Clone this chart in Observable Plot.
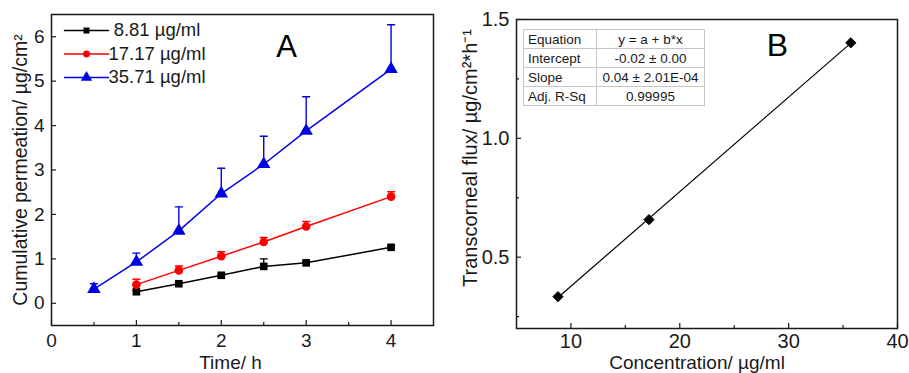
<!DOCTYPE html>
<html><head><meta charset="utf-8">
<script src="https://cdn.jsdelivr.net/npm/d3@7"></script>
<script src="https://cdn.jsdelivr.net/npm/@observablehq/plot@0.6"></script>
<style>
body{margin:0;background:#fff;}
#wrap{position:relative;width:909px;height:373px;overflow:hidden;font-family:"Liberation Sans",Arial,sans-serif;background:#fff;}
#wrap svg{position:absolute;top:0;}
#fit{position:absolute;left:523px;top:29px;border-collapse:collapse;font-size:13.5px;color:#1a1a1a;background:#fff;}
#fit td{border:1px solid #c6c6c6;height:18px;padding:0 4px;line-height:17px;white-space:nowrap;}
#fit td:first-child{width:64px;text-align:left;}
#fit td:last-child{width:99px;text-align:center;}
</style></head><body><div id="wrap"></div>
<script>
// ---------- Panel A data ----------
const timeA = [0.5, 1, 1.5, 2, 2.5, 3, 4];
const seriesA = ["\u00a08.81 µg/ml", "17.17 µg/ml", "35.71 µg/ml"];
const colorsA = ["#000000", "#ff0000", "#0000e6"];
const symbolsA = ["square", "circle", "triangle"];
const perm881 = [null, 0.26, 0.44, 0.63, 0.83, 0.91, 1.26];
const err881 = [null, 0.03, 0.03, 0.03, 0.17, 0.03, 0.03];
const perm1717 = [null, 0.42, 0.74, 1.06, 1.38, 1.73, 2.40];
const err1717 = [null, 0.12, 0.10, 0.10, 0.10, 0.11, 0.11];
const perm3571 = [0.32, 0.93, 1.63, 2.47, 3.13, 3.88, 5.27];
const err3571 = [0.12, 0.20, 0.54, 0.57, 0.63, 0.77, 1.00];
const xTicksA = [0, 1, 2, 3, 4];
const xMinorA = [0.5, 1.5, 2.5, 3.5];
const yTicksA = [0, 1, 2, 3, 4, 5, 6];

// ---------- Panel B data ----------
const concB = [8.81, 17.17, 35.71];
const fluxB = [0.334, 0.658, 1.402];
const xTicksB = [10, 20, 30, 40];
const xMinorB = [15, 25, 35];
const yTicksB = [0.5, 1.0, 1.5];
const yMinorB = [0.25, 0.75, 1.25];
const fitLabels = ["Equation", "Intercept", "Slope", "Adj. R-Sq"];
const fitValues = ["y = a + b*x", "-0.02 ± 0.00", "0.04 ± 2.01E-04", "0.99995"];

const wrap = document.getElementById("wrap");
const font = '"Liberation Sans", Arial, sans-serif';
const ink = "#1a1a1a";

// ---------- Panel A ----------
const permA = [perm881, perm1717, perm3571];
const errA = [err881, err1717, err3571];
const rowsA = [];
seriesA.forEach((s, i) => timeA.forEach((t, j) => {
  if (permA[i][j] != null) rowsA.push({s: i, t, v: permA[i][j], e: errA[i][j]});
}));

const A = {W: 450, H: 373, mL: 51, mR: 17, mT: 14, mB: 48};
const aInW = A.W - A.mL - A.mR, aInH = A.H - A.mT - A.mB;

const marksA = [
  Plot.frame({stroke: ink, strokeWidth: 1.5}),
  Plot.tickX(xTicksA, {x: d => d, insetTop: aInH - 5, stroke: ink, strokeWidth: 1.2}),
  Plot.tickX(xMinorA, {x: d => d, insetTop: aInH - 3, stroke: ink, strokeWidth: 1.2}),
  Plot.tickY(yTicksA, {y: d => d, insetRight: aInW - 5, stroke: ink, strokeWidth: 1.2}),
  Plot.axisX({ticks: xTicksA, tickSize: 0, tickPadding: 8, fontSize: 19, label: null, fill: ink, tickFormat: d3.format("d")}),
  Plot.axisY({ticks: yTicksA, tickSize: 0, tickPadding: 7, fontSize: 19, label: null, fill: ink, tickFormat: d3.format("d")}),
  Plot.text(["Time/ h"], {frameAnchor: "bottom", dx: -12, dy: 37, fontSize: 19, textAnchor: "middle", lineAnchor: "middle", fill: ink}),
  Plot.text(["Cumulative permeation/ µg/cm²"], {frameAnchor: "left", dx: -31, dy: 0, rotate: -90, fontSize: 19.5, textAnchor: "middle", lineAnchor: "middle", fill: ink}),
  Plot.text(["A"], {frameAnchor: "top-left", dx: 235, dy: 33, fontSize: 31, textAnchor: "middle", lineAnchor: "middle", fill: "#000"})
];
seriesA.forEach((name, i) => {
  const d = rowsA.filter(r => r.s === i);
  const c = colorsA[i];
  marksA.push(
    Plot.line(d, {x: "t", y: "v", stroke: c, strokeWidth: 1.5}),
    Plot.ruleX(d, {x: "t", y1: "v", y2: r => r.v + r.e, stroke: c, strokeWidth: 1.4}),
    Plot.vector(d, {x: "t", y: r => r.v + r.e, length: 7, rotate: 90, anchor: "middle", r: 0, stroke: c, strokeWidth: 1.4}),
    Plot.dot(d, {x: "t", y: "v", symbol: symbolsA[i], r: i === 2 ? 5 : 4.3, fill: c, stroke: "none"}),
    // legend
    Plot.vector([0], {frameAnchor: "top-left", dx: 35, dy: 16 + i * 23.5, length: 44, rotate: 90, anchor: "middle", r: 0, stroke: c, strokeWidth: 1.5}),
    Plot.dot([0], {frameAnchor: "top-left", dx: 35, dy: 16 + i * 23.5, symbol: symbolsA[i], r: i === 2 ? 4.2 : 3.4, fill: c, stroke: "none"}),
    Plot.text([name], {frameAnchor: "top-left", dx: 57, dy: 16 + i * 23.5, fontSize: 18.5, textAnchor: "start", lineAnchor: "middle", fill: ink})
  );
});

const plotA = Plot.plot({
  width: A.W, height: A.H,
  marginLeft: A.mL, marginRight: A.mR, marginTop: A.mT, marginBottom: A.mB,
  x: {domain: [0, 4.5]},
  y: {domain: [-0.5, 6.5]},
  style: {fontFamily: font, fontSize: "19px", background: "transparent", overflow: "visible", color: ink},
  marks: marksA
});
plotA.style.left = "0px";
wrap.appendChild(plotA);

// ---------- Panel B ----------
const rowsB = concB.map((c, i) => ({c, f: fluxB[i]}));
const B = {W: 459, H: 373, mL: 66, mR: 12, mT: 19, mB: 45};
const bInW = B.W - B.mL - B.mR, bInH = B.H - B.mT - B.mB;

const plotB = Plot.plot({
  width: B.W, height: B.H,
  marginLeft: B.mL, marginRight: B.mR, marginTop: B.mT, marginBottom: B.mB,
  x: {domain: [5, 40]},
  y: {domain: [0.2, 1.5]},
  style: {fontFamily: font, fontSize: "20px", background: "transparent", overflow: "visible", color: ink},
  marks: [
    Plot.frame({stroke: ink, strokeWidth: 1.5}),
    Plot.tickX(xTicksB, {x: d => d, insetTop: bInH - 5, stroke: ink, strokeWidth: 1.2}),
    Plot.tickX(xMinorB, {x: d => d, insetTop: bInH - 3, stroke: ink, strokeWidth: 1.2}),
    Plot.tickY(yTicksB, {y: d => d, insetRight: bInW - 5, stroke: ink, strokeWidth: 1.2}),
    Plot.tickY(yMinorB, {y: d => d, insetRight: bInW - 3, stroke: ink, strokeWidth: 1.2}),
    Plot.axisX({ticks: xTicksB, tickSize: 0, tickPadding: 5, fontSize: 20, label: null, fill: ink, tickFormat: d3.format("d")}),
    Plot.axisY({ticks: yTicksB, tickSize: 0, tickPadding: 7, fontSize: 20, label: null, tickFormat: d3.format(".1f"), fill: ink}),
    Plot.linearRegressionY(rowsB, {x: "c", y: "f", ci: 0, stroke: "#000", strokeWidth: 1.2}),
    Plot.dot(rowsB, {x: "c", y: "f", symbol: "diamond2", r: 4.6, fill: "#000", stroke: "#000", strokeWidth: 1}),
    Plot.text(["Concentration/ µg/ml"], {frameAnchor: "bottom", dx: -10, dy: 34, fontSize: 19, textAnchor: "middle", lineAnchor: "middle", fill: ink}),
    Plot.text(["Transcorneal flux/ µg/cm²*h⁻¹"], {frameAnchor: "left", dx: -46, dy: -16, rotate: -90, fontSize: 20, textAnchor: "middle", lineAnchor: "middle", fill: ink}),
    Plot.text(["B"], {frameAnchor: "top-left", dx: 261, dy: 26, fontSize: 32, textAnchor: "middle", lineAnchor: "middle", fill: "#000"})
  ]
});
plotB.style.left = "450px";
wrap.appendChild(plotB);

// ---------- Fit result table (inset annotation) ----------
const table = document.createElement("table");
table.id = "fit";
fitLabels.forEach((lab, i) => {
  const tr = document.createElement("tr");
  const a = document.createElement("td"); a.textContent = lab;
  const b = document.createElement("td"); b.textContent = fitValues[i];
  tr.append(a, b); table.appendChild(tr);
});
wrap.appendChild(table);
</script></body></html>
